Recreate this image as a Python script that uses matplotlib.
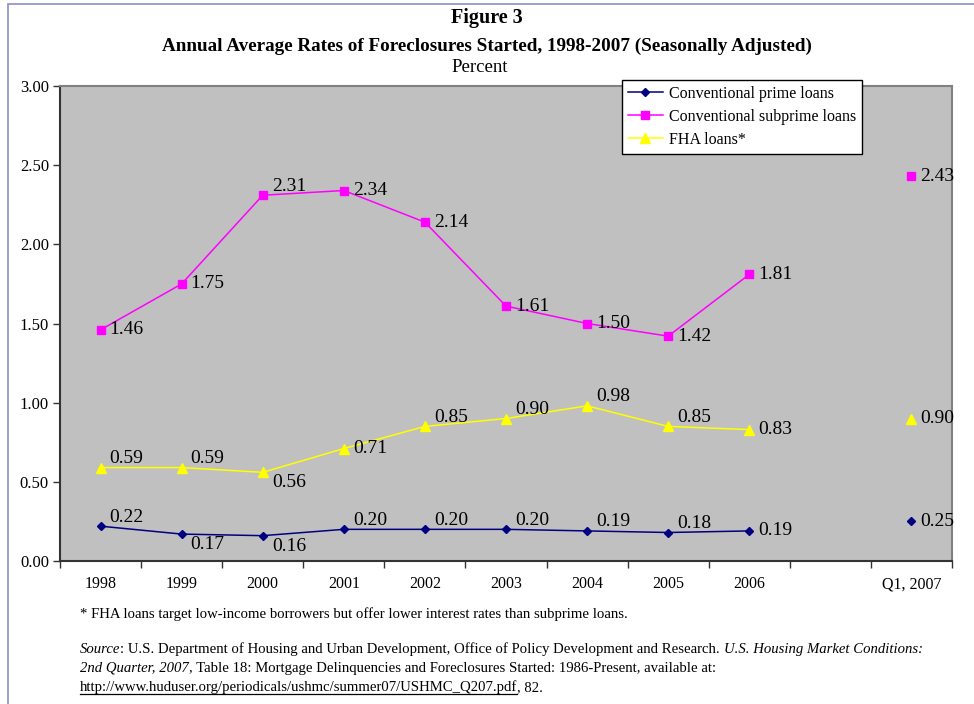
import numpy as np
import matplotlib
matplotlib.use("Agg")
import matplotlib.pyplot as plt
from matplotlib.lines import Line2D
from matplotlib.patches import Rectangle

plt.rcParams['font.family'] = ['Liberation Serif', 'DejaVu Serif']

categories = ["1998", "1999", "2000", "2001", "2002", "2003", "2004", "2005", "2006", "", "Q1, 2007"]
prime = [0.22, 0.17, 0.16, 0.20, 0.20, 0.20, 0.19, 0.18, 0.19, np.nan, 0.25]
subprime = [1.46, 1.75, 2.31, 2.34, 2.14, 1.61, 1.50, 1.42, 1.81, np.nan, 2.43]
fha = [0.59, 0.59, 0.56, 0.71, 0.85, 0.90, 0.98, 0.85, 0.83, np.nan, 0.90]
series_names = ["Conventional prime loans", "Conventional subprime loans", "FHA loans*"]

# label placement: 'u' above-right, 'd' below-right, 'c' right
prime_pos = ['u', 'd', 'd', 'u', 'u', 'u', 'u', 'u', 'c', 'c', 'c']
sub_pos = ['c', 'c', 'u', 'c', 'c', 'c', 'c', 'c', 'c', 'c', 'c']
fha_pos = ['u', 'u', 'd', 'c', 'u', 'u', 'u', 'u', 'c', 'c', 'c']

W, H = 974, 704
fig = plt.figure(figsize=(W / 100, H / 100), dpi=100)

def fx(px):
    return px / W

def fy(py):
    return 1 - py / H

# outer border
fig.patches.append(Rectangle((fx(8), fy(1000)), fx(1200), fy(4) - fy(1000),
                             transform=fig.transFigure, fill=False,
                             edgecolor='#8c8cc8', linewidth=1.2))

ax = fig.add_axes([fx(60), fy(561), fx(952) - fx(60), fy(86) - fy(561)])
ax.set_facecolor('#c0c0c0')
x = np.arange(len(categories))

styles = [
    (prime, '#000080', 'D', 4.5, prime_pos),
    (subprime, '#ff00ff', 's', 5.5, sub_pos),
    (fha, '#ffff00', '^', 6.5, fha_pos),
]
handles = []
for (vals, color, mk, ms, pos), name in zip(styles, series_names):
    h, = ax.plot(x, vals, color=color, marker=mk, markersize=ms, linewidth=1.1,
                 markeredgecolor=color, markerfacecolor=color, label=name)
    handles.append(h)
    for xi, v, p in zip(x, vals, pos):
        if np.isnan(v):
            continue
        dy = {'u': 6.5, 'd': -7.5, 'c': 0}[p]
        ax.annotate(f"{v:.2f}", (xi, v), xytext=(6.5, dy), textcoords='offset points',
                    ha='left', va='center', fontsize=14, color='black')

ax.set_xlim(-0.5, len(categories) - 0.5)
ax.set_ylim(0, 3.0)
ax.set_yticks(np.arange(0, 3.01, 0.5))
ax.set_yticklabels([f"{t:.2f}" for t in np.arange(0, 3.01, 0.5)], fontsize=12)
ax.set_xticks(x)
ax.set_xticklabels(categories, fontsize=11.5)
ax.set_xticks(np.arange(-0.5, len(categories), 1), minor=True)
ax.tick_params(axis='x', which='major', length=0, pad=11)
ax.tick_params(axis='x', which='minor', length=5, direction='out', width=1, color='#333333')
ax.tick_params(axis='y', length=5, direction='out', width=1, color='#333333', pad=3)
for s in ['top', 'right']:
    ax.spines[s].set_color('#808080')
    ax.spines[s].set_linewidth(1.5)
for s in ['left', 'bottom']:
    ax.spines[s].set_color('#333333')
    ax.spines[s].set_linewidth(1.5)

leg = fig.legend(handles=handles, loc='upper left',
                 bbox_to_anchor=(fx(622), fy(80)), fontsize=11.5, frameon=True,
                 fancybox=False, edgecolor='black', framealpha=1,
                 handlelength=2.2, handletextpad=0.4, labelspacing=0.45,
                 borderpad=0.35, borderaxespad=0)
leg.get_frame().set_linewidth(1.0)

# titles
fig.text(fx(487), fy(18), "Figure 3", ha='center', va='center', fontsize=14.5, fontweight='bold')
fig.text(fx(487), fy(46), "Annual Average Rates of Foreclosures Started, 1998-2007 (Seasonally Adjusted)",
         ha='center', va='center', fontsize=13.8, fontweight='bold')
fig.text(fx(480), fy(68), "Percent", ha='center', va='center', fontsize=13.5)

# footnotes with mixed styles
fig.canvas.draw()
renderer = fig.canvas.get_renderer()

def runs(px, py, parts, size=10.65, underline=None):
    xcur = px
    for txt, style in parts:
        t = fig.text(fx(xcur), fy(py), txt, ha='left', va='baseline', fontsize=size,
                     fontstyle='italic' if 'i' in style else 'normal')
        bb = t.get_window_extent(renderer=renderer)
        if 'u' in style:
            fig.add_artist(Line2D([fx(xcur), fx(xcur + bb.width)], [fy(py + 2.5), fy(py + 2.5)],
                                  transform=fig.transFigure, color='black', linewidth=0.9))
        xcur += bb.width

runs(80, 618, [("* FHA loans target low-income borrowers but offer lower interest rates than subprime loans.", "")])
runs(80, 653, [("Source", "i"),
               (": U.S. Department of Housing and Urban Development, Office of Policy Development and Research. ", ""),
               ("U.S. Housing Market Conditions:", "i")])
runs(80, 672, [("2nd Quarter, 2007", "i"),
               (", Table 18: Mortgage Delinquencies and Foreclosures Started: 1986-Present, available at:", "")])
runs(80, 691, [("http://www.huduser.org/periodicals/ushmc/summer07/USHMC_Q207.pdf", "u"),
               (", 82.", "")])

fig.savefig("out.png", dpi=100)
